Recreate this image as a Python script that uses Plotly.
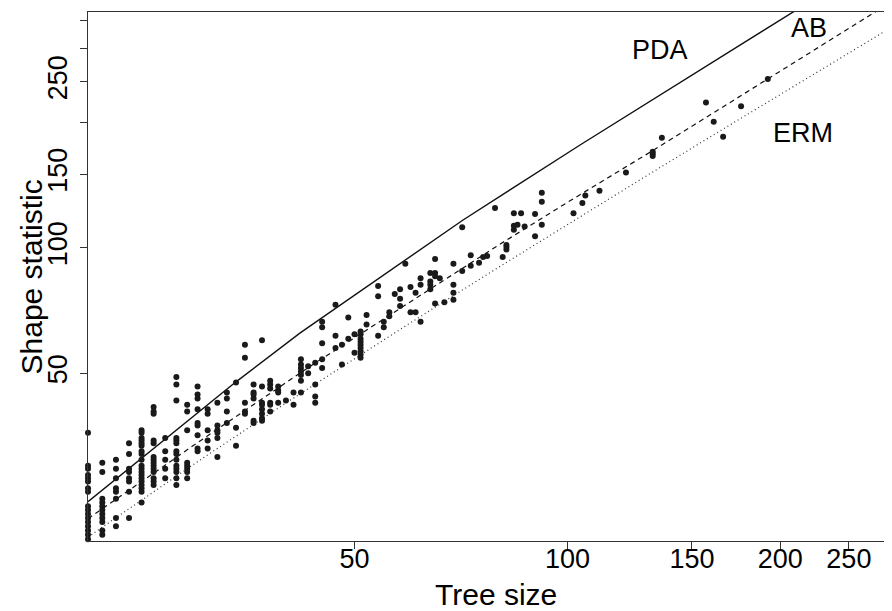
import plotly.graph_objects as go

# ---- data ----
col_sizes = [21, 22, 23, 24, 25, 26, 27, 28, 29, 30, 31, 32, 33, 34, 35, 36, 37, 38, 39, 40,
             41, 42, 43, 44, 45, 47, 48, 49, 50, 51, 52, 54, 55, 56, 57, 58, 59, 60, 61, 62,
             64, 65, 66, 67, 69, 71, 73, 75, 76, 77, 79, 81, 82, 84, 85, 86, 87, 90, 92,
             102, 105, 106, 111, 121, 132, 136, 157, 161, 166, 176, 192]
col_values = [
    [36, 30, 29.5, 28.5, 28, 27.5, 26.5, 26, 24, 23.5, 23, 22.5, 22, 21.5, 21, 20.5, 20],
    [30.5, 29, 25, 24.5, 24, 23.5, 23, 22.5, 22, 21, 20.5],
    [31, 29.5, 28, 26.5, 26, 25, 22.5, 21.5],
    [34, 32, 29.5, 29, 28, 27.5, 26, 22.5],
    [36.5, 36, 35, 34.5, 34, 33.5, 32.5, 32, 31, 30, 29.5, 29, 28.5, 28, 27.5, 27, 26.5, 26, 24.5],
    [41.5, 40.5, 40, 34.5, 34, 31.5, 31, 30.5, 30, 29.5, 29, 28, 27.5, 27],
    [35, 32.5, 31, 29.5, 28],
    [49, 47, 43, 35, 34.5, 34, 32.5, 32, 31, 30, 29.5, 29, 28, 27],
    [42, 40.5, 36.5, 30.5, 30, 29.5, 29, 28],
    [46.5, 44.5, 43.5, 41, 38, 37.5, 35.5, 33, 32.5],
    [41, 40, 36.5, 34.5, 33],
    [42.5, 37.5, 36.5, 36, 35, 31.5],
    [45, 43.5, 40.5, 38],
    [47.5, 37, 33.5],
    [58.5, 54.5, 42.5, 40.5, 40],
    [47, 45, 44.5, 43.5, 38.5, 38],
    [60, 46.5, 42.5, 42, 41, 40, 39, 38.5],
    [48, 47, 46, 42.5, 42, 40.5],
    [46.5, 45.5, 45, 42.5],
    [43],
    [45, 42],
    [54, 52.5, 51.5, 50.5, 49.5, 48, 45],
    [52, 50],
    [53, 47, 44, 42.5],
    [66.5, 64.5, 59, 54, 51.5],
    [73, 61.5, 57.5],
    [58.5, 52.5],
    [68, 60.5],
    [62, 56],
    [63, 62, 60.5, 59.5, 58.5, 57.5, 56.5, 55.5, 54.5],
    [69, 65.5],
    [81, 76.5, 61.5],
    [66.5, 64.5],
    [70, 68.5],
    [77.5],
    [79.5, 75.5, 72.5],
    [91.5],
    [80.5, 70],
    [78, 70],
    [84.5, 81.5, 66.5],
    [87, 83, 81.5, 79.5],
    [94, 87, 85.5, 73.5],
    [84.5],
    [74],
    [91.5, 81.5, 78, 75],
    [112, 88],
    [96, 90.5],
    [92],
    [95],
    [95.5],
    [124.5],
    [95],
    [101.5, 100.5, 99],
    [121, 113, 110.5],
    [113.5],
    [121],
    [112.5],
    [120.5, 106.5],
    [135.5, 129, 113.5],
    [121],
    [128],
    [133.5],
    [137],
    [151.5],
    [170, 168, 166],
    [183.5],
    [223],
    [200.5],
    [184.5],
    [218.5],
    [254],
]

# model curves
pda_size = [21, 34, 41.9, 71.2, 104.2, 150, 210, 240]
pda_value = [24.6, 47.7, 62.5, 116.6, 176.4, 260, 370.8, 426.6]
ab_size = [21, 30, 43, 60, 80, 100, 132, 192, 272, 290]
ab_value = [22.4, 34.1, 51.6, 74.4, 101.6, 128.5, 171, 254, 367.6, 393]
erm_size = [21, 25, 30, 40, 50, 60, 80, 100, 130, 160, 200, 250, 290]
erm_value = [20.25, 24.86, 30.70, 42.44, 54.25, 66.10, 89.88, 113.72, 149.56, 185.45,
             233.36, 293.3, 341.3]

x_ticks = [50, 100, 150, 200, 250]
x_ticktext = ["50", "100", "150", "200", "250"]
y_ticks = [50, 100, 150, 200, 250, 300, 350]
y_ticktext = ["50", "100", "150", "", "250", "", ""]

model_labels = ["PDA", "AB", "ERM"]
label_x_log = [2.1310, 2.3416, 2.3324]
label_y_log = [2.4743, 2.5282, 2.2762]

tree_size = []
shape_stat = []
for n, vals in zip(col_sizes, col_values):
    for v in vals:
        tree_size.append(n)
        shape_stat.append(v)

FONT = "Liberation Sans, Arial, Helvetica, sans-serif"

fig = go.Figure()
fig.add_trace(go.Scatter(x=pda_size, y=pda_value, mode="lines",
                         line=dict(color="#111111", width=1.4), showlegend=False))
fig.add_trace(go.Scatter(x=ab_size, y=ab_value, mode="lines",
                         line=dict(color="#111111", width=1.2, dash="5px,4px"), showlegend=False))
fig.add_trace(go.Scatter(x=erm_size, y=erm_value, mode="lines",
                         line=dict(color="#333333", width=1.2, dash="1px,3px"), showlegend=False))
fig.add_trace(go.Scatter(x=tree_size, y=shape_stat, mode="markers",
                         marker=dict(color="#1a1a1a", size=6, line=dict(width=0)),
                         showlegend=False, cliponaxis=False))

for txt, xv, yv in zip(model_labels, label_x_log, label_y_log):
    fig.add_annotation(x=xv, y=yv, xref="x", yref="y", text=txt, showarrow=False,
                       xanchor="center", yanchor="middle",
                       font=dict(family=FONT, size=27, color="black"))

# axis titles
fig.add_annotation(x=0.5075, y=-0.1002, xref="paper", yref="paper", text="Tree size",
                   showarrow=False, xanchor="center", yanchor="middle",
                   font=dict(family=FONT, size=30, color="black"))
fig.add_annotation(x=-0.0697, y=0.5, xref="paper", yref="paper", text="Shape statistic",
                   showarrow=False, xanchor="center", yanchor="middle", textangle=-90,
                   font=dict(family=FONT, size=30, color="black"))

# the page body adds an 8 px offset, so the figure is 8 px smaller on each side
fig.update_layout(
    width=884, height=603,
    margin=dict(l=80, r=0, t=4, b=70),
    paper_bgcolor="white", plot_bgcolor="white",
    font=dict(family=FONT, color="black"),
    xaxis=dict(type="log", range=[1.3222, 2.4589], tickvals=x_ticks, ticktext=x_ticktext,
               ticks="outside", ticklen=7, tickcolor="#333", tickfont=dict(size=27),
               ticklabelstandoff=-14, automargin=False,
               showline=True, linecolor="#333", linewidth=1.2, mirror=True,
               showgrid=False, zeroline=False),
    yaxis=dict(type="log", range=[1.2968, 2.5654], tickvals=y_ticks, ticktext=y_ticktext,
               ticks="outside", ticklen=7, tickcolor="#333", tickfont=dict(size=27),
               tickangle=-90, ticklabelstandoff=2, automargin=False,
               showline=True, linecolor="#333", linewidth=1.2, mirror=False,
               showgrid=False, zeroline=False),
)

fig.write_html("out.html")
